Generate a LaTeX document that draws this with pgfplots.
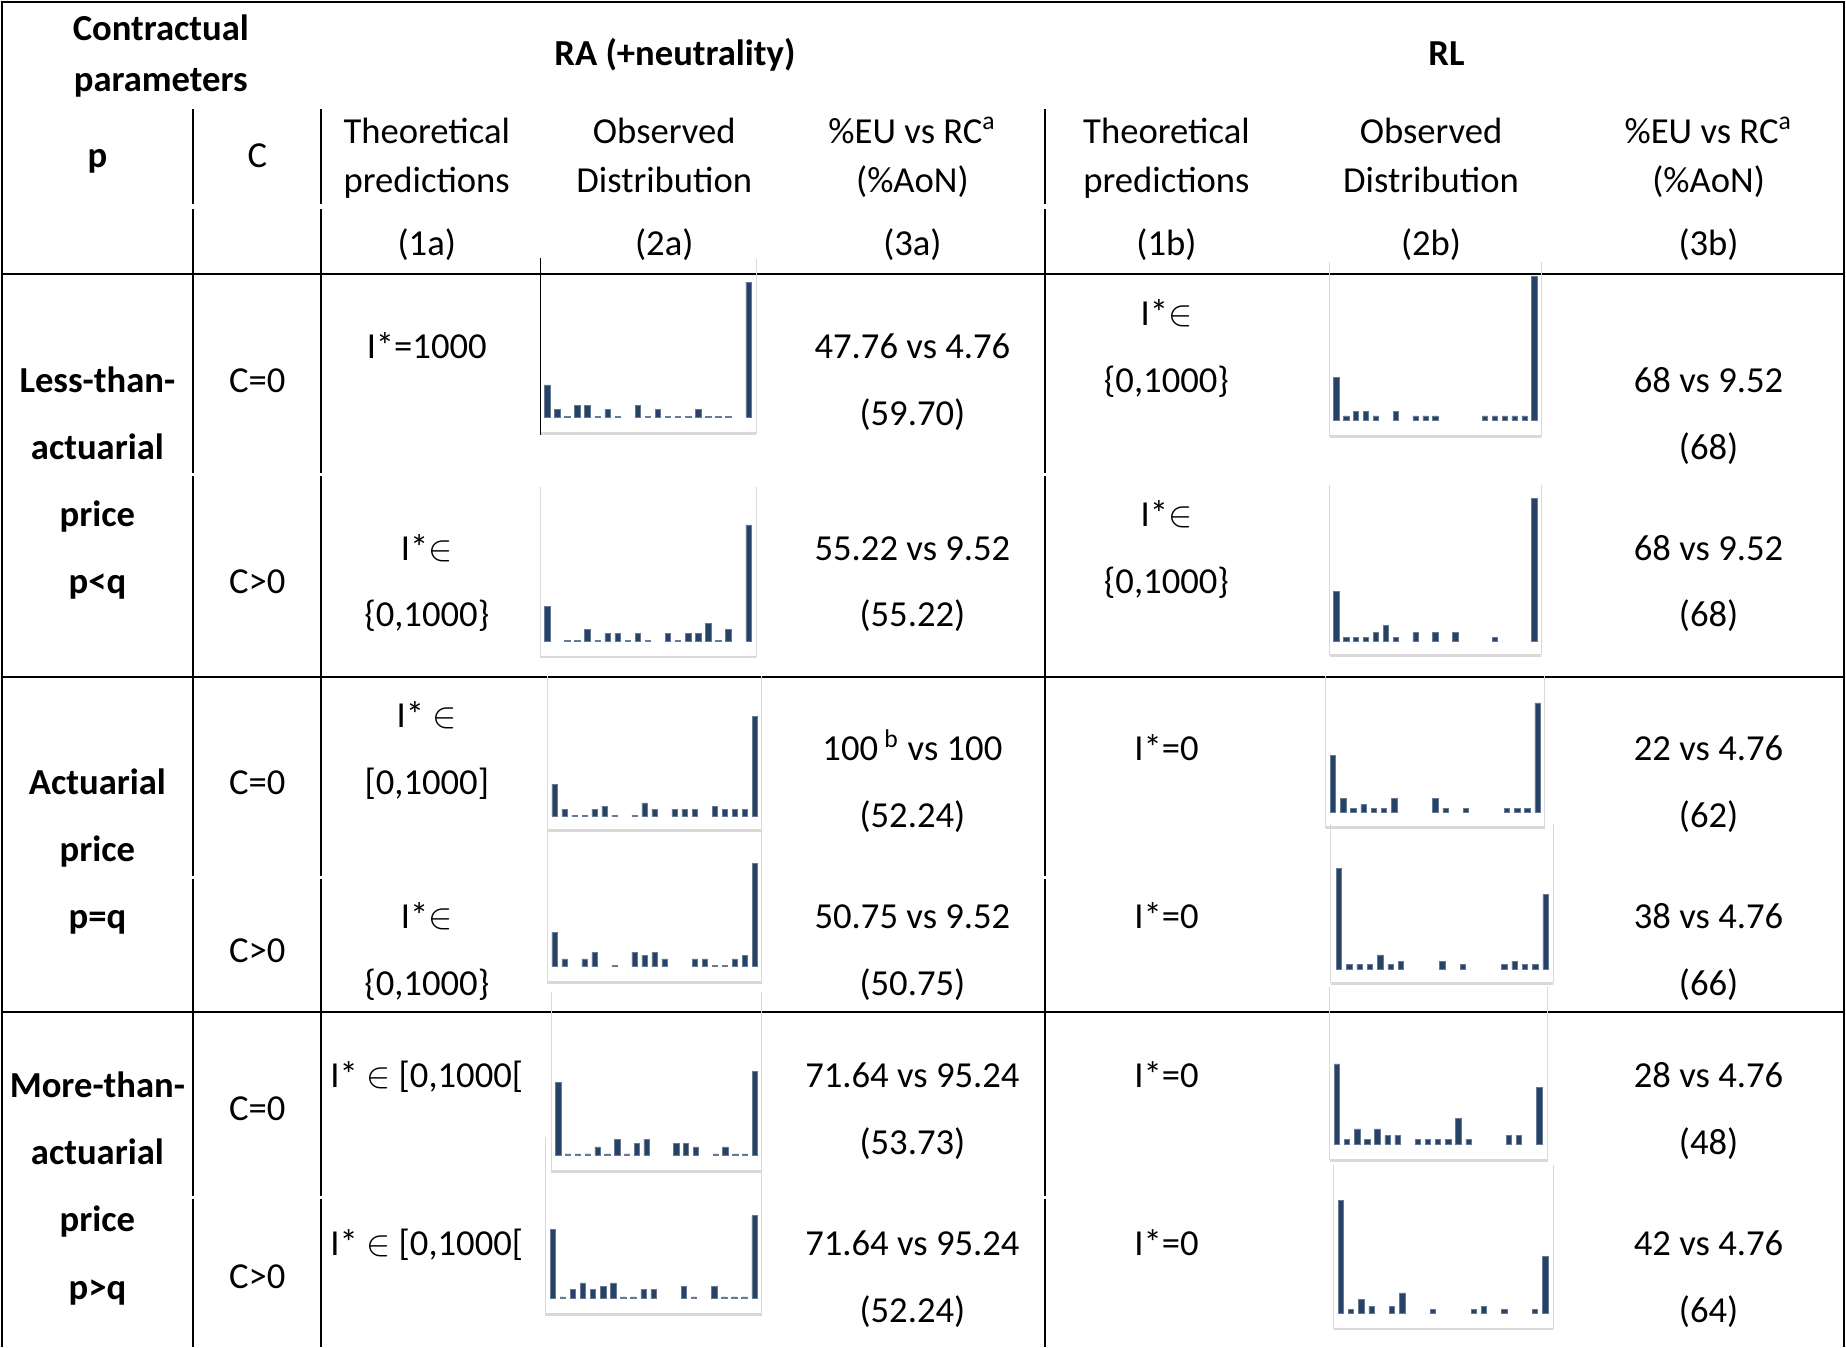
\documentclass[border=0pt]{standalone}
\usepackage{fontspec}
\setmainfont{Carlito}
\usepackage{pgfplots}
\pgfplotsset{compat=1.18}
\definecolor{barcol}{HTML}{264266}
\definecolor{frm}{HTML}{D9D9D9}
\pgfplotsset{mini/.style={hide axis, scale only axis, clip=false, anchor=south west, ybar, bar width=1.6pt}}
\newcommand{\mini}[9]{%
\pgfmathsetmacro\Lpt{#1*0.3}%
\pgfmathsetmacro\Bpt{#2*0.3}%
\begin{axis}[mini, at={(\Lpt pt,-\Bpt pt)}, width=#3pt, height=#4pt, xmin=#5, xmax=#6, ymin=#7, ymax=#8]
\addplot[fill=barcol, draw=barcol!70!white, line width=0.15pt] coordinates {#9};
\draw[frm, line width=0.3pt] (rel axis cs:0,1) -- (rel axis cs:0,0);
\draw[frm, line width=0.3pt] (rel axis cs:1,1) -- (rel axis cs:1,0);
\draw[frm, line width=0.8pt] (rel axis cs:0,0) -- (rel axis cs:1,0);
\end{axis}}
\begin{document}
\begin{tikzpicture}[x=0.3pt, y=0.3pt,
  every node/.style={font=\fontsize{11}{13}\selectfont, inner sep=0pt, anchor=base},
  tb/.style={font=\fontsize{11}{13}\selectfont\bfseries}]
\path (0,0) rectangle (1846,-1347);
% table rules
\begin{scope}[line width=0.6pt]
\draw (1,0) -- (1,-1347);
\draw (0,-1) -- (1846,-1);
\draw (1845,0) -- (1845,-1347);
\foreach \xx in {192,320,1045} {
  \draw (\xx,-108) -- (\xx,-203);
  \draw (\xx,-208) -- (\xx,-473);
  \draw (\xx,-476) -- (\xx,-876);
  \draw (\xx,-879) -- (\xx,-1196);
  \draw (\xx,-1199) -- (\xx,-1347);
}
\foreach \yy in {273,676.5,1012.5} {
  \draw (0,-\yy) -- (1846,-\yy);
}
\end{scope}
% header
\node[tb] at (160,-39.3) {Contractual};
\node[tb] at (160,-90.7) {parameters};
\node[tb] at (674.6,-65) {RA (+neutrality)};
\node[tb] at (1447,-65) {RL};
\node[tb] at (96.5,-167) {p};
\node at (256.6,-167) {C};
\foreach \cx/\la/\lb/\lc in {426.2/Theoretical/predictions/(1a), 664/Observed/Distribution/(2a), 1166.7/Theoretical/predictions/(1b), 1431.6/Observed/Distribution/(2b)} {
  \node at (\cx,-142.3) {\la};
  \node at (\cx,-191.7) {\lb};
  \node at (\cx,-255) {\lc};
}
\node at (912.4,-142.3) {\%EU vs RC\textsuperscript{a}};
\node at (912.4,-191.7) {(\%AoN)};
\node at (912.4,-255) {(3a)};
\node at (1709.4,-142.3) {\%EU vs RC\textsuperscript{a}};
\node at (1709.4,-191.7) {(\%AoN)};
\node at (1709.4,-255) {(3b)};
% p column
\node[tb] at (96.5,-392) {Less-than-};
\node[tb] at (96.5,-459) {actuarial};
\node[tb] at (96.5,-526.3) {price};
\node[tb] at (96.5,-593.4) {p<q};
\node[tb] at (96.5,-794.7) {Actuarial};
\node[tb] at (96.5,-861.8) {price};
\node[tb] at (96.5,-928.9) {p=q};
\node[tb] at (96.5,-1097.2) {More-than-};
\node[tb] at (96.5,-1164.3) {actuarial};
\node[tb] at (96.5,-1231.5) {price};
\node[tb] at (96.5,-1300) {p>q};
% C column
\node at (256.6,-392) {C=0};
\node at (256.6,-593.4) {C>0};
\node at (256.6,-794.7) {C=0};
\node at (256.6,-963) {C>0};
\node at (256.6,-1120.8) {C=0};
\node at (256.6,-1289) {C>0};
% (1a)
\node at (426.2,-357.9) {I*=1000};
\node at (426.2,-560.4) {I*$\in$};
\node at (426.2,-626.3) {\{0,1000\}};
\node at (426.2,-727.6) {I* $\in$};
\node at (426.2,-794.7) {{[}0,1000{]}};
\node at (426.2,-928.9) {I*$\in$};
\node at (426.2,-996) {\{0,1000\}};
\node at (426.2,-1087.8) {I* $\in$ {[}0,1000{[}};
\node at (426.2,-1256.2) {I* $\in$ {[}0,1000{[}};
% (3a)
\node at (912.4,-357.9) {47.76 vs 4.76};
\node at (912.4,-425) {(59.70)};
\node at (912.4,-560.4) {55.22 vs 9.52};
\node at (912.4,-626.3) {(55.22)};
\node at (912.4,-760.5) {100\,\textsuperscript{b} vs 100};
\node at (912.4,-827.6) {(52.24)};
\node at (912.4,-928.9) {50.75 vs 9.52};
\node at (912.4,-996) {(50.75)};
\node at (912.4,-1087.8) {71.64 vs 95.24};
\node at (912.4,-1155) {(53.73)};
\node at (912.4,-1256.2) {71.64 vs 95.24};
\node at (912.4,-1323.3) {(52.24)};
% (1b)
\node at (1166.7,-325) {I*$\in$};
\node at (1166.7,-392) {\{0,1000\}};
\node at (1166.7,-526.3) {I*$\in$};
\node at (1166.7,-593.4) {\{0,1000\}};
\node at (1166.7,-760.5) {I*=0};
\node at (1166.7,-928.9) {I*=0};
\node at (1166.7,-1087.8) {I*=0};
\node at (1166.7,-1256.2) {I*=0};
% (3b)
\node at (1709.4,-392) {68 vs 9.52};
\node at (1709.4,-459) {(68)};
\node at (1709.4,-560.4) {68 vs 9.52};
\node at (1709.4,-626.3) {(68)};
\node at (1709.4,-760.5) {22 vs 4.76};
\node at (1709.4,-827.6) {(62)};
\node at (1709.4,-928.9) {38 vs 4.76};
\node at (1709.4,-996) {(66)};
\node at (1709.4,-1087.8) {28 vs 4.76};
\node at (1709.4,-1155) {(48)};
\node at (1709.4,-1256.2) {42 vs 4.76};
\node at (1709.4,-1323.3) {(64)};
% mini charts (2a)
\mini{540}{433}{64.8}{52.5}{-0.665}{20.76}{-16.3}{158.7}{(0,32.3)(1,8)(2,1)(3,11.7)(4,11.7)(5,1)(6,8)(7,1)(9,11.7)(10,1)(11,8)(12,1)(13,1)(14,1)(15,8)(16,1)(17,1)(18,1)(20,135)}
\draw[black, line width=0.4pt] (540,-257) -- (540,-434);
\mini{540}{656.7}{64.8}{51.0}{-0.665}{20.76}{-16}{154}{(0,34.7)(2,1)(3,1)(4,11.3)(5,1)(6,7.3)(7,7.3)(8,1)(9,7.3)(10,1)(12,7.3)(13,1)(14,7.3)(15,7.3)(16,18)(17,1)(18,11.3)(20,116.3)}
\mini{546.7}{830.3}{64.5}{46.3}{-0.73}{20.71}{-14.3}{140}{(0,31.7)(1,7)(2,1)(3,1)(4,7)(5,10)(6,1)(8,1)(9,13.3)(10,7)(12,7)(13,7)(14,7)(16,10)(17,7)(18,7)(19,7)(20,100)}
\mini{546.7}{982.7}{64.5}{45.5}{-0.73}{20.71}{-16}{135.7}{(0,34.7)(1,7.7)(3,7.7)(4,14.3)(6,1)(8,14.3)(9,11)(10,14.3)(11,7.7)(14,7.7)(15,7.7)(16,1)(17,1)(18,7.7)(19,11)(20,103.3)}
\mini{551}{1171.7}{63.2}{53.8}{-0.68}{20.71}{-16.7}{162.7}{(0,72.7)(1,1)(2,1)(3,1)(4,8)(5,1)(6,15.3)(7,1)(8,11.7)(9,15.3)(12,11.7)(13,11.7)(14,8)(16,1)(17,8)(18,1)(19,1)(20,83.3)}
\mini{545}{1315}{65.0}{53.2}{-0.72}{20.73}{-16.7}{160.6}{(0,68.3)(1,1)(2,8.3)(3,15)(4,8.3)(5,11.7)(6,15)(7,1)(8,1)(9,8.3)(10,8.3)(13,11.7)(14,1)(16,11.7)(17,1)(18,1)(19,1)(20,82.7)}
% mini charts (2b)
\mini{1330}{436}{63.5}{52.3}{-0.675}{20.67}{-16.7}{157.6}{(0,42.7)(1,4)(2,8.3)(3,8.3)(4,4)(6,8.3)(8,4)(9,4)(10,4)(15,4)(16,4)(17,4)(18,4)(19,4)(20,143.7)}
\mini{1330}{655}{63.5}{51.2}{-0.675}{20.67}{-14}{156.7}{(0,50)(1,4.3)(2,4.3)(3,4.3)(4,8.7)(5,16)(6,4.3)(8,8.7)(10,8.7)(12,8.7)(16,4.3)(20,143.3)}
\mini{1326.3}{827.7}{65.8}{45.5}{-0.68}{20.72}{-15.4}{136.3}{(0,57)(1,14)(2,4.3)(3,7.7)(4,4.3)(5,4.3)(6,14)(10,14)(11,4.3)(13,4.3)(17,4.3)(18,4.3)(19,4.3)(20,109.7)}
\mini{1331.3}{983.3}{66.8}{47.8}{-0.77}{20.74}{-14.3}{145}{(0,100.3)(1,4.7)(2,4.7)(3,4.7)(4,14)(5,4.7)(6,7.7)(10,7.7)(12,4.7)(16,4.7)(17,7.7)(18,4.7)(19,4.7)(20,74.7)}
\mini{1330}{1160.7}{65.5}{52.0}{-0.72}{20.83}{-16.7}{156.7}{(0,80)(1,4.7)(2,15)(3,4.7)(4,15)(5,8.3)(6,8.3)(8,4.7)(9,4.7)(10,4.7)(11,4.7)(12,25.7)(13,4.7)(17,8.3)(18,8.3)(20,56.3)}
\mini{1334}{1329.3}{66.0}{49.3}{-0.71}{20.79}{-15.3}{149}{(0,113)(1,4)(2,14)(3,7.3)(5,7.3)(6,20.7)(9,4)(13,4)(14,7.3)(16,4)(19,4)(20,57.3)}
\end{tikzpicture}
\end{document}
